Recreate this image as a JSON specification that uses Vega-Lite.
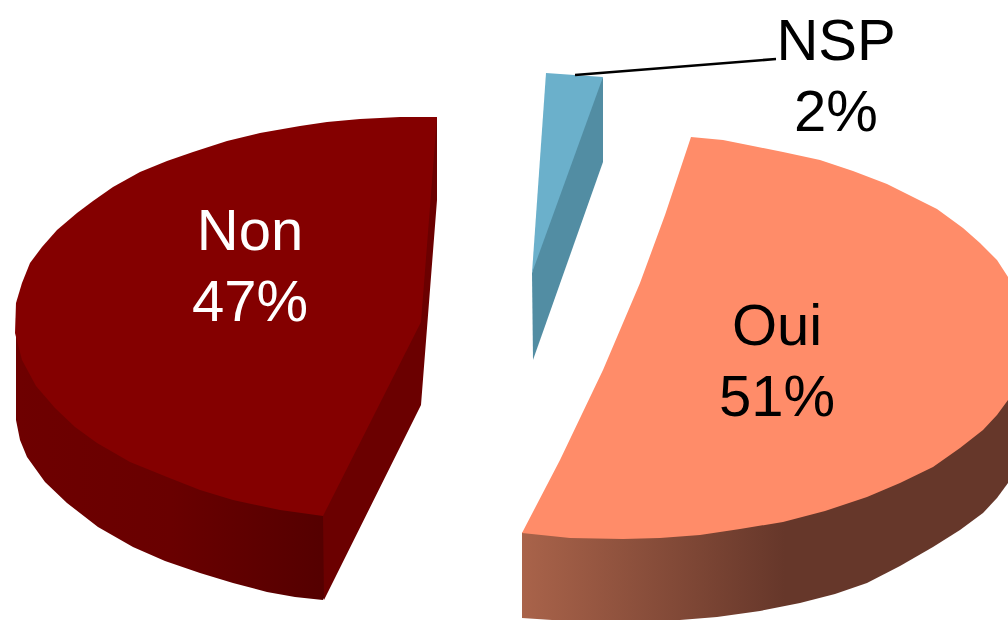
{"$schema":"https://vega.github.io/schema/vega-lite/v6.json","width":1008,"height":620,"autosize":{"type":"fit","contains":"padding"},"padding":0,"background":"white","view":{"stroke":null},"config":{"axis":{"disable":true},"legend":{"disable":true}},
"datasets":{"shapes":[
{"s":"nonOuter","i":1,"x":16,"y":313},{"s":"nonOuter","i":2,"x":16,"y":420},{"s":"nonOuter","i":3,"x":20,"y":440},{"s":"nonOuter","i":4,"x":27,"y":457},{"s":"nonOuter","i":5,"x":45,"y":482},{"s":"nonOuter","i":6,"x":67,"y":503},{"s":"nonOuter","i":7,"x":98,"y":527},{"s":"nonOuter","i":8,"x":133,"y":547},{"s":"nonOuter","i":9,"x":165,"y":561},{"s":"nonOuter","i":10,"x":200,"y":573},{"s":"nonOuter","i":11,"x":233,"y":583},{"s":"nonOuter","i":12,"x":267,"y":592},{"s":"nonOuter","i":13,"x":295,"y":597},{"s":"nonOuter","i":14,"x":323,"y":600},{"s":"nonOuter","i":15,"x":328,"y":590},{"s":"nonOuter","i":16,"x":328,"y":500},{"s":"nonOuter","i":17,"x":233,"y":480},
{"s":"nonWall","i":1,"x":437,"y":117},{"s":"nonWall","i":2,"x":437,"y":200},{"s":"nonWall","i":3,"x":421,"y":405},{"s":"nonWall","i":4,"x":324,"y":600},{"s":"nonWall","i":5,"x":323,"y":516},{"s":"nonWall","i":6,"x":315,"y":505},{"s":"nonWall","i":7,"x":410,"y":322},{"s":"nonWall","i":8,"x":428,"y":125},
{"s":"nonTop","i":1,"x":437,"y":117},{"s":"nonTop","i":2,"x":400,"y":117},{"s":"nonTop","i":3,"x":360,"y":119},{"s":"nonTop","i":4,"x":327,"y":122},{"s":"nonTop","i":5,"x":300,"y":126},{"s":"nonTop","i":6,"x":260,"y":133},{"s":"nonTop","i":7,"x":227,"y":141},{"s":"nonTop","i":8,"x":193,"y":152},{"s":"nonTop","i":9,"x":167,"y":161},{"s":"nonTop","i":10,"x":140,"y":172},{"s":"nonTop","i":11,"x":113,"y":187},{"s":"nonTop","i":12,"x":93,"y":201},{"s":"nonTop","i":13,"x":77,"y":213},{"s":"nonTop","i":14,"x":57,"y":230},{"s":"nonTop","i":15,"x":42,"y":247},{"s":"nonTop","i":16,"x":30,"y":263},{"s":"nonTop","i":17,"x":22,"y":283},{"s":"nonTop","i":18,"x":16,"y":303},{"s":"nonTop","i":19,"x":15,"y":333},{"s":"nonTop","i":20,"x":22,"y":360},{"s":"nonTop","i":21,"x":36,"y":386},{"s":"nonTop","i":22,"x":55,"y":408},{"s":"nonTop","i":23,"x":75,"y":427},{"s":"nonTop","i":24,"x":97,"y":443},{"s":"nonTop","i":25,"x":130,"y":462},{"s":"nonTop","i":26,"x":167,"y":477},{"s":"nonTop","i":27,"x":200,"y":490},{"s":"nonTop","i":28,"x":233,"y":500},{"s":"nonTop","i":29,"x":280,"y":510},{"s":"nonTop","i":30,"x":323,"y":516},{"s":"nonTop","i":31,"x":421,"y":322},
{"s":"nspWall","i":1,"x":603,"y":77},{"s":"nspWall","i":2,"x":603,"y":162},{"s":"nspWall","i":3,"x":533,"y":360},{"s":"nspWall","i":4,"x":532,"y":273},{"s":"nspWall","i":5,"x":535,"y":260},{"s":"nspWall","i":6,"x":598,"y":85},
{"s":"nspTop","i":1,"x":546,"y":73},{"s":"nspTop","i":2,"x":603,"y":77},{"s":"nspTop","i":3,"x":532,"y":273},
{"s":"ouiSide","i":1,"x":522,"y":533},{"s":"ouiSide","i":2,"x":522,"y":618},{"s":"ouiSide","i":3,"x":567,"y":621},{"s":"ouiSide","i":4,"x":640,"y":622},{"s":"ouiSide","i":5,"x":680,"y":620},{"s":"ouiSide","i":6,"x":717,"y":617},{"s":"ouiSide","i":7,"x":760,"y":611},{"s":"ouiSide","i":8,"x":800,"y":603},{"s":"ouiSide","i":9,"x":835,"y":594},{"s":"ouiSide","i":10,"x":867,"y":583},{"s":"ouiSide","i":11,"x":900,"y":566},{"s":"ouiSide","i":12,"x":933,"y":547},{"s":"ouiSide","i":13,"x":960,"y":530},{"s":"ouiSide","i":14,"x":983,"y":513},{"s":"ouiSide","i":15,"x":997,"y":498},{"s":"ouiSide","i":16,"x":1008,"y":483},{"s":"ouiSide","i":17,"x":1008,"y":390},{"s":"ouiSide","i":18,"x":530,"y":525},
{"s":"ouiTop","i":1,"x":691,"y":137},{"s":"ouiTop","i":2,"x":723,"y":140},{"s":"ouiTop","i":3,"x":753,"y":146},{"s":"ouiTop","i":4,"x":783,"y":152},{"s":"ouiTop","i":5,"x":820,"y":160},{"s":"ouiTop","i":6,"x":853,"y":171},{"s":"ouiTop","i":7,"x":887,"y":184},{"s":"ouiTop","i":8,"x":913,"y":197},{"s":"ouiTop","i":9,"x":937,"y":209},{"s":"ouiTop","i":10,"x":963,"y":228},{"s":"ouiTop","i":11,"x":980,"y":243},{"s":"ouiTop","i":12,"x":997,"y":260},{"s":"ouiTop","i":13,"x":1008,"y":277},{"s":"ouiTop","i":14,"x":1008,"y":400},{"s":"ouiTop","i":15,"x":997,"y":415},{"s":"ouiTop","i":16,"x":983,"y":430},{"s":"ouiTop","i":17,"x":960,"y":448},{"s":"ouiTop","i":18,"x":933,"y":467},{"s":"ouiTop","i":19,"x":900,"y":483},{"s":"ouiTop","i":20,"x":867,"y":497},{"s":"ouiTop","i":21,"x":825,"y":511},{"s":"ouiTop","i":22,"x":783,"y":522},{"s":"ouiTop","i":23,"x":740,"y":529},{"s":"ouiTop","i":24,"x":700,"y":535},{"s":"ouiTop","i":25,"x":660,"y":538},{"s":"ouiTop","i":26,"x":623,"y":539},{"s":"ouiTop","i":27,"x":570,"y":538},{"s":"ouiTop","i":28,"x":522,"y":533},{"s":"ouiTop","i":29,"x":560,"y":460},{"s":"ouiTop","i":30,"x":603,"y":370},{"s":"ouiTop","i":31,"x":640,"y":283},{"s":"ouiTop","i":32,"x":665,"y":215},
{"s":"leader","i":1,"x":575,"y":75},{"s":"leader","i":2,"x":776,"y":59}
],
"labels":[
{"t":"Non","x":250,"y":233,"c":"white"},{"t":"47%","x":250,"y":304,"c":"white"},
{"t":"Oui","x":777,"y":328,"c":"black"},{"t":"51%","x":777,"y":399,"c":"black"},
{"t":"NSP","x":836,"y":43,"c":"black"},{"t":"2%","x":836,"y":114,"c":"black"}
]},
"encoding":{
"x":{"field":"x","type":"quantitative","scale":{"domain":[0,1008],"nice":false,"zero":false},"axis":null},
"y":{"field":"y","type":"quantitative","scale":{"domain":[620,0],"nice":false,"zero":false},"axis":null}},
"layer":[
{"data":{"name":"shapes"},"transform":[{"filter":"datum.s==='nonOuter'"}],"mark":{"type":"line","clip":true,"strokeWidth":0,"fill":{"gradient":"linear","x1":0,"y1":0,"x2":1,"y2":0,"stops":[{"offset":0,"color":"#6E0000"},{"offset":0.5,"color":"#690000"},{"offset":1,"color":"#540000"}]}},"encoding":{"order":{"field":"i"}}},
{"data":{"name":"shapes"},"transform":[{"filter":"datum.s==='nonWall'"}],"mark":{"type":"line","clip":true,"strokeWidth":0,"fill":"#6B0000"},"encoding":{"order":{"field":"i"}}},
{"data":{"name":"shapes"},"transform":[{"filter":"datum.s==='nonTop'"}],"mark":{"type":"line","clip":true,"strokeWidth":0,"fill":"#840000"},"encoding":{"order":{"field":"i"}}},
{"data":{"name":"shapes"},"transform":[{"filter":"datum.s==='nspWall'"}],"mark":{"type":"line","clip":true,"strokeWidth":0,"fill":"#528DA3"},"encoding":{"order":{"field":"i"}}},
{"data":{"name":"shapes"},"transform":[{"filter":"datum.s==='nspTop'"}],"mark":{"type":"line","clip":true,"strokeWidth":0,"fill":"#6BB0CB"},"encoding":{"order":{"field":"i"}}},
{"data":{"name":"shapes"},"transform":[{"filter":"datum.s==='ouiSide'"}],"mark":{"type":"line","clip":true,"strokeWidth":0,"fill":{"gradient":"linear","x1":0,"y1":0,"x2":1,"y2":0,"stops":[{"offset":0,"color":"#A9634A"},{"offset":0.54,"color":"#66372A"},{"offset":1,"color":"#66372A"}]}},"encoding":{"order":{"field":"i"}}},
{"data":{"name":"shapes"},"transform":[{"filter":"datum.s==='ouiTop'"}],"mark":{"type":"line","clip":true,"strokeWidth":0,"fill":"#FF8C69"},"encoding":{"order":{"field":"i"}}},
{"data":{"name":"shapes"},"transform":[{"filter":"datum.s==='leader'"}],"mark":{"type":"line","stroke":"black","strokeWidth":2.6},"encoding":{"order":{"field":"i"}}},
{"data":{"name":"labels"},"mark":{"type":"text","font":"Liberation Sans","fontSize":58,"align":"center","baseline":"middle"},"encoding":{"text":{"field":"t"},"color":{"field":"c","type":"nominal","scale":null}}}
]}
